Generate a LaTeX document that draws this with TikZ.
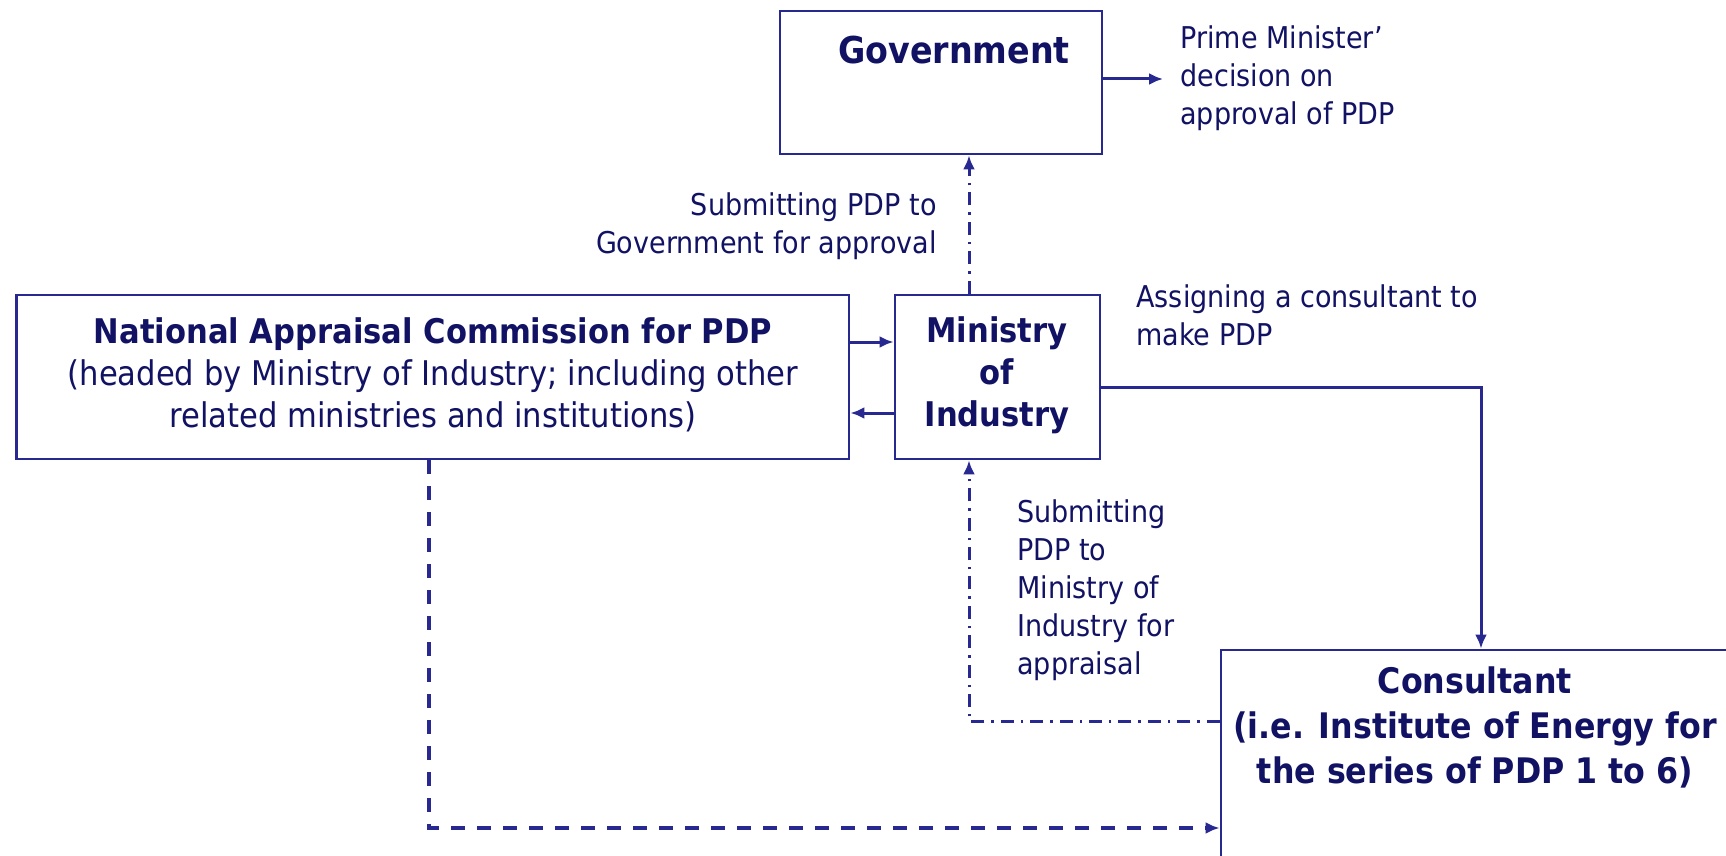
\documentclass[tikz,border=0pt]{standalone}
\usepackage{fontspec}
\setmainfont{DejaVu Sans}[FakeStretch=0.9]
\usetikzlibrary{arrows.meta,calc}
\definecolor{navy}{RGB}{18,18,100}
\definecolor{lineblue}{RGB}{40,40,145}
\begin{document}
\begin{tikzpicture}[x=0.5pt,y=-0.5pt,
  box/.style={draw=lineblue,line width=1.4pt,rectangle,inner sep=0pt,fill=white},
  boxtext/.style={text=navy,align=center,inner sep=0pt,font=\fontsize{17}{21}\selectfont},
  lbl/.style={text=navy,inner sep=0pt,font=\fontsize{15}{19}\selectfont},
  conn/.style={draw=lineblue,line width=1.5pt,-{Latex[length=7pt,width=6pt]}},
  dashconn/.style={conn,dash pattern=on 7pt off 6pt,line width=1.7pt},
  dotconn/.style={conn,dash pattern=on 6.5pt off 3.5pt on 1.2pt off 3.5pt}]
\fill[white] (0,0) rectangle (1726,856);
\useasboundingbox (0,0) rectangle (1726,856);
\clip (0,0) rectangle (1726,856);
% boxes
\node[box,minimum width=161pt,minimum height=71.5pt] (gov) at (941,82.5) {};
\node[boxtext,font=\fontsize{18.5}{22}\selectfont\bfseries] (govt) at (954,50) {Government};
\node[box,minimum width=416.25pt,minimum height=82pt] (nac) at (432.75,377) {};
\node[boxtext] (nact) at (433,375) {\textbf{National Appraisal Commission for PDP}\\(headed by Ministry of Industry; including other\\related ministries and institutions)};
\node[box,minimum width=102.5pt,minimum height=82pt] (min) at (997.5,377) {};
\node[boxtext,font=\fontsize{17}{21}\selectfont\bfseries] (mint) at (997,375) {Ministry\\of\\Industry};
\node[box,minimum width=262pt,minimum height=135pt] (cons) at (1483,785) {};
\node[boxtext,font=\fontsize{17.6}{22.5}\selectfont\bfseries] (const) at (1475,727) {Consultant\\(i.e. Institute of Energy for\\the series of PDP 1 to 6)};
% labels
\node[lbl,align=left,anchor=west] (pm) at (1180,78) {Prime Minister’\\decision on\\approval of PDP};
\node[lbl,align=right,anchor=east] (subgov) at (937,226.5) {Submitting PDP to\\Government for approval};
\node[lbl,align=left,anchor=west] (assign) at (1136,315.5) {Assigning a consultant to\\make PDP};
\node[lbl,align=left,anchor=west] (submin) at (1017,590) {Submitting\\PDP to\\Ministry of\\Industry for\\appraisal};
% helper coordinates
\coordinate (ddx) at (969,0);
\coordinate (pmend) at (1163,79);
\coordinate (cx) at (1481,0);
\coordinate (nx) at (429,0);
% connectors
\draw[conn] (gov.east |- pmend) -- (pmend);
\draw[dotconn] (min.north -| ddx) -- (gov.south -| ddx);
\draw[conn] ($(nac.east)+(0,-35)$) -- ($(min.west)+(0,-35)$);
\draw[conn] ($(min.west)+(0,36)$) -- ($(nac.east)+(0,36)$);
\draw[conn] ($(min.east)+(0,10)$) -| (cons.north -| cx);
\draw[dotconn] ($(cons.west)+(0,-64)$) -| (min.south -| ddx);
\draw[dashconn] (nac.south -| nx) |- ($(cons.west)+(0,43)$);
\end{tikzpicture}
\end{document}
